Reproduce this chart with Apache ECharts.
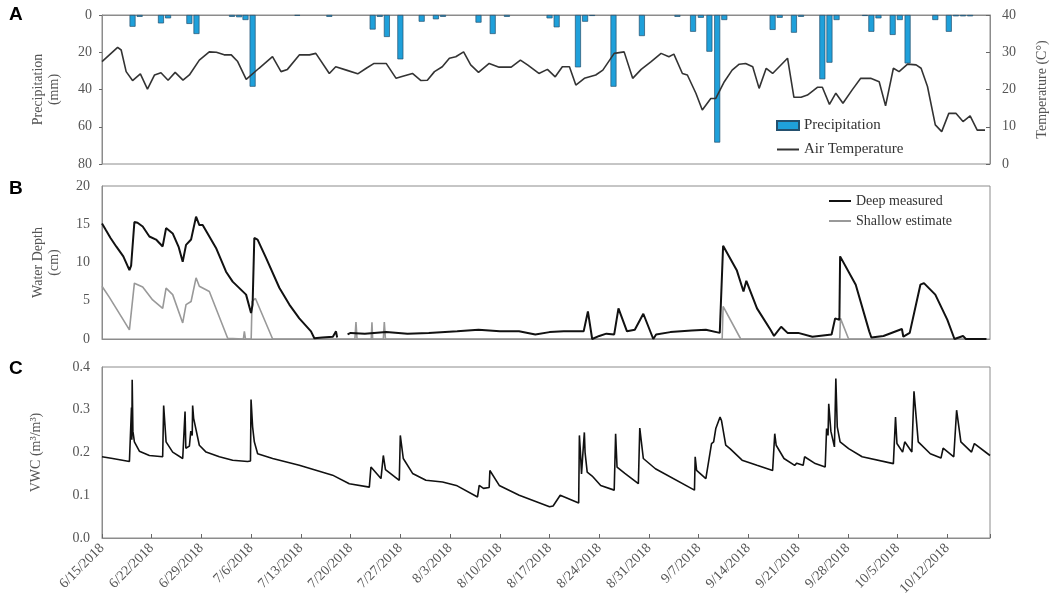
<!DOCTYPE html>
<html>
<head>
<meta charset="utf-8">
<script src="https://cdn.jsdelivr.net/npm/echarts@6/dist/echarts.min.js"></script>
<style>html,body{margin:0;padding:0;background:#fff;}#chart{width:1052px;height:613px;}</style>
</head>
<body>
<div id="chart"></div>
<script>
// x values are days since 6/15/2018
const xTickLabels = ['6/15/2018','6/22/2018','6/29/2018','7/6/2018','7/13/2018','7/20/2018','7/27/2018','8/3/2018','8/10/2018','8/17/2018','8/24/2018','8/31/2018','9/7/2018','9/14/2018','9/21/2018','9/28/2018','10/5/2018','10/12/2018'];

// Panel A: daily precipitation (mm), [day, mm]
const precipitation = [
  [4.3,6.3],[5.3,1.0],[8.3,4.5],[9.3,1.8],[12.3,4.8],[13.3,10.2],[18.3,1.0],[19.3,1.2],[20.2,2.7],[21.2,38.5],
  [27.5,0.4],[32.0,1.0],[38.1,7.8],[39.1,1.0],[40.1,11.8],[42.0,23.8],[45.0,3.6],[47.0,2.3],[48.0,1.0],
  [53.0,4.1],[55.0,10.2],[57.0,1.0],[63.0,1.8],[64.0,6.6],[67.0,28.1],[68.0,3.6],[69.0,0.5],[72.0,38.5],
  [76.0,11.3],[81.0,1.0],[83.2,9.0],[84.3,1.5],[85.5,19.7],[86.6,68.5],[87.6,2.7],[94.4,8.0],[95.4,1.5],
  [97.4,9.5],[98.4,1.0],[101.4,34.5],[102.4,25.6],[103.4,2.7],[107.4,0.5],[108.3,9.0],[109.3,1.8],
  [111.3,10.7],[112.3,2.7],[113.4,26.0],[117.3,2.7],[119.2,9.0],[120.2,0.7],[121.2,0.7],[122.2,0.7]
];

// Panel A: air temperature (°C), [day, T]
const airTemperature = [
  [0,27.5],[2.2,31.3],[2.7,30.6],[3.4,24.8],[4.3,22.4],[5.4,24.2],[6.4,20.1],[7.4,23.9],[8.3,24.5],[9.3,22.5],
  [10.3,24.6],[11.4,22.5],[12.3,23.9],[13.7,27.9],[15.1,30.1],[16.1,30.0],[17.2,29.3],[18.2,29.3],[19.1,27.5],
  [20.3,22.7],[22.1,25.7],[24.0,28.8],[25.2,24.8],[26.1,25.4],[27.8,29.3],[29.2,29.3],[30.1,29.7],[32.0,24.3],
  [32.9,26.1],[34.4,25.2],[36.0,24.2],[37.2,25.7],[38.3,27.0],[40.0,27.0],[41.4,23.0],[42.1,23.4],[43.7,24.3],
  [44.9,22.4],[45.8,22.5],[46.8,24.8],[47.9,26.1],[48.9,28.4],[49.8,28.8],[50.9,30.1],[51.9,26.6],[53.0,24.6],
  [54.5,27.0],[55.9,26.0],[57.6,26.0],[58.9,27.9],[59.9,26.6],[61.5,24.3],[62.7,25.4],[63.8,23.4],[64.8,26.1],
  [65.8,26.1],[66.7,21.2],[67.9,23.0],[69.5,23.9],[70.5,25.2],[72.1,29.7],[73.5,30.1],[74.7,23.0],[75.9,25.4],
  [77.3,27.5],[78.7,29.7],[79.8,28.8],[80.5,29.5],[81.7,24.3],[82.4,23.9],[83.6,19.0],[84.5,14.5],[85.7,17.6],
  [86.4,17.6],[87.6,22.1],[88.7,25.2],[89.7,26.8],[90.6,27.0],[91.6,26.1],[92.5,20.3],[93.5,25.7],[94.4,24.3],
  [96.5,28.4],[97.4,17.9],[98.4,17.9],[99.3,18.5],[100.7,20.6],[101.4,20.6],[102.4,16.0],[103.3,19.0],
  [104.3,16.3],[105.6,19.9],[106.8,23.0],[108.2,23.0],[109.4,22.1],[110.3,15.6],[111.4,25.7],[112.2,24.8],
  [113.4,26.8],[114.6,26.6],[115.3,25.7],[116.2,20.8],[117.3,10.5],[118.2,8.7],[119.2,13.6],[120.2,13.6],
  [121.2,11.4],[122.2,12.9],[123.2,9.1],[124.3,9.1]
];

// Panel B: water depth (cm), [day, cm]
const deepMeasured = [
  [0,15.1],[0.5,14.3],[1.2,13.2],[2.0,12.1],[3.0,10.8],[3.86,9.0],[4.1,9.6],[4.56,15.3],[5.0,15.2],[5.73,14.7],
  [6.67,13.4],[7.61,13.0],[8.54,12.1],[9.02,14.5],[9.95,13.8],[10.8,12.0],[11.36,10.1],[11.83,12.3],[12.54,13.0],
  [13.24,16.0],[13.7,14.9],[14.17,14.9],[16.05,11.9],[17.46,8.8],[18.39,7.5],[20.28,5.8],[20.98,3.4],[21.2,4.5],
  [21.44,13.2],[21.9,13.0],[23.09,10.6],[24.96,6.7],[26.37,4.5],[27.77,2.7],[29.42,1.0],[29.89,0.1],[31.0,0.2],
  [32.5,0.3],[32.94,1.0],[33.1,0.2],[33.2,null],[34.57,0.6],[35.0,0.8],[37.0,0.7],[40.0,0.9],[43.0,0.7],
  [46.0,0.8],[50.0,1.0],[53.0,1.2],[56.0,1.0],[58.7,1.0],[61.0,0.6],[63.0,0.9],[65.0,1.0],[67.8,1.0],[68.4,3.6],
  [69.0,0],[70.0,0.4],[71.0,0.7],[72.1,0.6],[72.7,4.0],[73.9,1.0],[75.0,1.2],[76.2,3.3],[77.6,0],[78.0,0.6],
  [80.0,0.9],[83.0,1.1],[85.0,1.2],[86.96,0.8],[87.43,12.2],[89.35,9.0],[90.3,6.2],[90.7,7.6],[92.2,4.0],
  [94.1,1.2],[94.6,0.4],[95.6,1.6],[96.5,0.8],[98.0,0.8],[100.0,0.3],[102.7,0.6],[103.2,2.7],[103.8,2.5],
  [103.9,10.8],[106.1,7.1],[108.0,1.0],[108.3,0.2],[110.0,0.4],[112.6,1.3],[112.8,0.3],[113.7,0.8],[115.2,7.1],
  [115.7,7.3],[117.3,5.8],[119.0,2.5],[120.0,0],[121.2,0.4],[121.6,0],[124.5,0]
];
const shallowEstimate = [
  [0,6.9],[1.0,5.5],[2.0,4.0],[3.0,2.5],[3.86,1.2],[4.56,7.3],[5.73,6.8],[7.13,5.1],[8.54,4.0],[9.02,6.65],
  [9.95,5.8],[11.36,2.1],[11.83,4.5],[12.54,4.9],[13.24,8.0],[13.7,6.9],[15.11,6.2],[17.69,0.1],[19.9,0],
  [20.04,1.0],[20.2,0],[21.0,0],[21.12,4.9],[21.6,5.3],[24.02,0],[35.6,0],[35.75,2.2],[35.9,0],[37.9,0],
  [38.0,2.2],[38.1,0],[39.6,0],[39.74,2.2],[39.9,0],[87.3,0],[87.43,4.25],[89.91,0],[103.85,0],[103.95,2.7],
  [105.1,0],[124.5,0]
];

// Panel C: volumetric water content (m3/m3), [day, VWC]
const vwc = [
  [0,0.19],[1.5,0.186],[3.86,0.179],[4.1,0.18],[4.15,0.305],[4.2,0.23],[4.25,0.37],[4.35,0.25],[4.56,0.225],
  [5.26,0.203],[6.67,0.193],[8.54,0.19],[8.68,0.31],[9.02,0.225],[9.95,0.201],[11.36,0.186],[11.6,0.186],
  [11.69,0.296],[11.8,0.21],[12.06,0.209],[12.3,0.215],[12.5,0.25],[12.7,0.24],[12.76,0.31],[12.9,0.28],
  [13.7,0.217],[14.65,0.201],[16.52,0.19],[18.39,0.182],[20.5,0.179],[20.9,0.18],[20.98,0.324],[21.2,0.26],
  [21.44,0.225],[21.91,0.197],[24.02,0.186],[27.77,0.17],[32.46,0.147],[34.81,0.127],[37.63,0.119],
  [37.86,0.166],[39.27,0.139],[39.5,0.14],[39.6,0.193],[39.9,0.16],[41.85,0.135],[41.95,0.135],[41.99,0.24],
  [42.41,0.186],[43.72,0.151],[45.6,0.135],[47.94,0.131],[50.0,0.122],[52.86,0.096],[53.1,0.123],[53.7,0.116],
  [54.5,0.118],[54.6,0.158],[55.92,0.123],[58.73,0.1],[63.0,0.073],[63.5,0.075],[64.5,0.1],[67.1,0.082],
  [67.2,0.24],[67.35,0.2],[67.5,0.15],[67.7,0.2],[67.9,0.247],[68.0,0.2],[68.3,0.154],[69.0,0.145],
  [70.2,0.123],[72.1,0.112],[72.3,0.244],[72.5,0.166],[73.6,0.151],[75.5,0.127],[75.7,0.257],[76.2,0.186],
  [77.9,0.162],[83.4,0.112],[83.5,0.19],[83.7,0.158],[85.0,0.139],[85.8,0.221],[86.1,0.225],[86.4,0.256],
  [87.0,0.283],[87.2,0.275],[87.8,0.217],[88.4,0.209],[90.1,0.182],[92.2,0.17],[94.4,0.158],[94.7,0.244],
  [94.9,0.217],[96.0,0.186],[97.5,0.17],[97.8,0.175],[98.7,0.17],[98.9,0.19],[100.4,0.174],[101.8,0.166],
  [102.0,0.256],[102.2,0.24],[102.3,0.314],[102.6,0.25],[103.1,0.213],[103.3,0.373],[103.5,0.26],[103.9,0.225],
  [105.1,0.209],[107.0,0.19],[111.4,0.174],[111.7,0.283],[111.9,0.221],[112.7,0.201],[113.0,0.225],
  [114.0,0.201],[114.3,0.343],[114.9,0.225],[116.6,0.197],[118.1,0.187],[118.4,0.21],[119.9,0.19],
  [120.3,0.299],[120.9,0.225],[122.4,0.201],[122.8,0.221],[125.0,0.193]
];

const serif = 'Liberation Serif';
const labelColor = '#555';
const axisColor = '#8c8c8c';
const lineIcon = 'path://M0,0 L22,0 L22,2 L0,2 Z';
const nameStyle = {fontFamily: serif, fontSize: 14, color: labelColor, lineHeight: 16};
const tickLabel = {fontFamily: serif, fontSize: 14, color: labelColor};

function xAx(idx, showLabels) {
  return {
    type: 'value', gridIndex: idx, min: 0, max: 125, interval: 7,
    axisLine: {show: true, lineStyle: {color: axisColor}},
    axisTick: {show: showLabels, inside: true, length: 4, lineStyle: {color: '#666'}},
    splitLine: {show: false},
    axisLabel: {
      show: showLabels, rotate: 45, margin: 8, fontFamily: serif, fontSize: 14, color: labelColor,
      formatter: function (v) { const i = v / 7; return (Number.isInteger(i) && i < xTickLabels.length) ? xTickLabels[i] : ''; }
    }
  };
}

function gridAt(top, height) {
  return {left: 102, right: 62, top: top, height: height, show: true, borderColor: axisColor, borderWidth: 1,
          containLabel: false, outerBoundsMode: 'none'};
}

const chart = echarts.init(document.getElementById('chart'));
chart.setOption({
  animation: false,
  backgroundColor: '#fff',
  title: [
    {text: 'A', left: 4, top: 0, textStyle: {fontFamily: 'Liberation Sans', fontWeight: 'bold', fontSize: 19, color: '#000'}},
    {text: 'B', left: 4, top: 174, textStyle: {fontFamily: 'Liberation Sans', fontWeight: 'bold', fontSize: 19, color: '#000'}},
    {text: 'C', left: 4, top: 354, textStyle: {fontFamily: 'Liberation Sans', fontWeight: 'bold', fontSize: 19, color: '#000'}}
  ],
  legend: [
    {
      data: [{name: 'Precipitation', icon: 'rect'}, {name: 'Air Temperature', icon: lineIcon}],
      orient: 'vertical', left: 776, top: 118, padding: 0, itemWidth: 22, itemHeight: 9, itemGap: 9,
      textStyle: {fontFamily: serif, fontSize: 15, color: '#333'}
    },
    {
      data: [{name: 'Deep measured', icon: lineIcon}, {name: 'Shallow estimate', icon: lineIcon}],
      orient: 'vertical', left: 829, top: 194, padding: 0, itemWidth: 22, itemHeight: 9, itemGap: 6,
      textStyle: {fontFamily: serif, fontSize: 14, color: '#333'}
    }
  ],
  grid: [gridAt(15, 149), gridAt(186, 153), gridAt(367, 171)],
  xAxis: [xAx(0, false), xAx(1, false), xAx(2, true)],
  yAxis: [
    {
      type: 'value', gridIndex: 0, inverse: true, min: 0, max: 80, interval: 20,
      name: 'Precipitation\n(mm)', nameLocation: 'middle', nameGap: 40, nameRotate: 90, nameTextStyle: nameStyle,
      axisLine: {show: true, lineStyle: {color: axisColor}}, axisTick: {show: true, length: 3, lineStyle: {color: '#666'}},
      splitLine: {show: false}, axisLabel: Object.assign({margin: 10}, tickLabel)
    },
    {
      type: 'value', gridIndex: 0, position: 'right', min: 0, max: 40, interval: 10,
      name: 'Temperature (C°)', nameLocation: 'middle', nameGap: 44, nameRotate: 90, nameTextStyle: nameStyle,
      axisLine: {show: true, lineStyle: {color: axisColor}}, axisTick: {show: true, inside: true, length: 4, lineStyle: {color: '#666'}},
      splitLine: {show: false}, axisLabel: Object.assign({margin: 12}, tickLabel)
    },
    {
      type: 'value', gridIndex: 1, min: 0, max: 20, interval: 5,
      name: 'Water Depth\n(cm)', nameLocation: 'middle', nameGap: 40, nameRotate: 90, nameTextStyle: nameStyle,
      axisLine: {show: true, lineStyle: {color: axisColor}}, axisTick: {show: false},
      splitLine: {show: false}, axisLabel: Object.assign({margin: 12}, tickLabel)
    },
    {
      type: 'value', gridIndex: 2, min: 0, max: 0.4, interval: 0.1,
      name: 'VWC (m³/m³)', nameLocation: 'middle', nameGap: 58, nameRotate: 90, nameTextStyle: nameStyle,
      axisLine: {show: true, lineStyle: {color: axisColor}}, axisTick: {show: false},
      splitLine: {show: false},
      axisLabel: Object.assign({margin: 12, formatter: function (v) { return v.toFixed(1); }}, tickLabel)
    }
  ],
  series: [
    {
      name: 'Precipitation', type: 'bar', xAxisIndex: 0, yAxisIndex: 0, data: precipitation, barWidth: 6,
      itemStyle: {color: '#1fa0da', borderColor: '#24506e', borderWidth: 0.7}
    },
    {
      name: 'Air Temperature', type: 'line', xAxisIndex: 0, yAxisIndex: 1, data: airTemperature,
      symbol: 'none', lineStyle: {color: '#333', width: 1.6}, itemStyle: {color: '#333'}
    },
    {
      name: 'Shallow estimate', type: 'line', xAxisIndex: 1, yAxisIndex: 2, data: shallowEstimate,
      symbol: 'none', lineStyle: {color: '#999', width: 1.6}, itemStyle: {color: '#999'}
    },
    {
      name: 'Deep measured', type: 'line', xAxisIndex: 1, yAxisIndex: 2, data: deepMeasured, connectNulls: false,
      symbol: 'none', lineStyle: {color: '#111', width: 2}, itemStyle: {color: '#111'}
    },
    {
      name: 'VWC', type: 'line', xAxisIndex: 2, yAxisIndex: 3, data: vwc,
      symbol: 'none', lineStyle: {color: '#111', width: 1.6}, itemStyle: {color: '#111'}
    }
  ]
});
</script>
</body>
</html>
